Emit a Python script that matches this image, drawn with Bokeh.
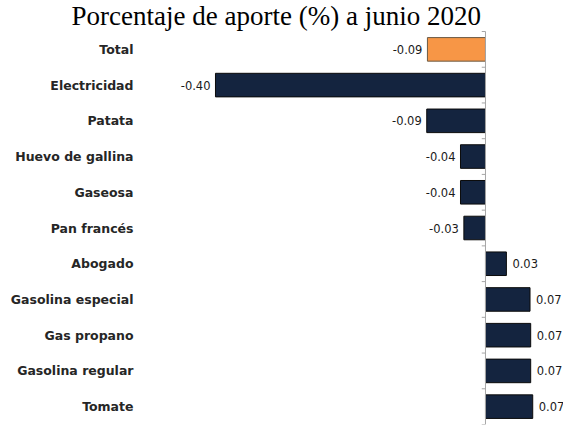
from bokeh.plotting import figure
from bokeh.models import ColumnDataSource, Range1d
from bokeh.core.properties import value
from bokeh.embed import file_html
from bokeh.resources import INLINE

# ---- data ----
categories = ["Total", "Electricidad", "Patata", "Huevo de gallina", "Gaseosa",
              "Pan francés", "Abogado", "Gasolina especial", "Gas propano",
              "Gasolina regular", "Tomate"]
values = [-0.086, -0.400, -0.087, -0.037, -0.037, -0.032, 0.031, 0.066, 0.067, 0.067, 0.070]
labels = ["-0.09", "-0.40", "-0.09", "-0.04", "-0.04", "-0.03", "0.03", "0.07", "0.07", "0.07", "0.07"]
title_text = "Porcentaje de aporte (%) a junio 2020"

NAVY = "#14243f"
ORANGE = "#f79646"

n = len(categories)
ypos = [n - 1 - i + 0.5 for i in range(n)]          # first category on top
colors = [ORANGE if c == "Total" else NAVY for c in categories]
outlines = ["#6b5a45" if c == "Total" else "#0b0b0b" for c in categories]

src = ColumnDataSource(dict(y=ypos, cat=categories, val=values, lab=labels,
                            color=colors, outline=outlines))

W, H = 563, 425
TOP_PAD = 0.868          # room above the first category (category units)
X0, X1 = -0.7185, 0.1156
p = figure(width=W, height=H, output_backend="svg", toolbar_location=None,
           y_range=Range1d(0, n + TOP_PAD), x_range=Range1d(X0, X1),
           min_border_left=0, min_border_right=0, min_border_top=0, min_border_bottom=1)

p.hbar(y="y", right="val", left=0, height=0.66, fill_color="color",
       line_color="outline", line_width=1, source=src)

neg = ColumnDataSource(dict(y=[y for y, v in zip(ypos, values) if v < 0],
                            val=[v for v in values if v < 0],
                            lab=[l for l, v in zip(labels, values) if v < 0]))
pos = ColumnDataSource(dict(y=[y for y, v in zip(ypos, values) if v >= 0],
                            val=[v for v in values if v >= 0],
                            lab=[l for l, v in zip(labels, values) if v >= 0]))
common = dict(text="lab", text_font=value("DejaVu Sans"), text_font_size="11.5px",
              text_color="#1a1a1a", text_baseline="middle")
p.text(x="val", y="y", source=neg, text_align="right", x_offset=-5, **common)
p.text(x="val", y="y", source=pos, text_align="left", x_offset=6, **common)

# category labels (right-aligned column on the left)
p.text(x=X0, y="y", text="cat", source=src, x_offset=133, text_align="right",
       text_baseline="middle", text_font=value("DejaVu Sans"), text_font_style="bold",
       text_font_size="12.5px", text_color="#262626")

# zero axis line with category-boundary ticks
bounds = list(range(n + 1))
p.segment(x0=[0], x1=[0], y0=[0], y1=[n], line_color="#a6a6a6", line_width=1)
p.segment(x0=[-0.0055] * len(bounds), x1=[0] * len(bounds),
          y0=bounds, y1=bounds, line_color="#a6a6a6", line_width=1)

# title at the top edge
p.text(x=[-0.310], y=[n + TOP_PAD], text=[title_text], text_align="center",
       text_baseline="top", text_font=value("Liberation Serif"),
       text_font_size="27px", text_color="#000000", y_offset=0)

p.xaxis.visible = False
p.yaxis.visible = False
p.grid.visible = False
p.outline_line_color = None

open("out.html", "w").write(file_html(p, INLINE))
